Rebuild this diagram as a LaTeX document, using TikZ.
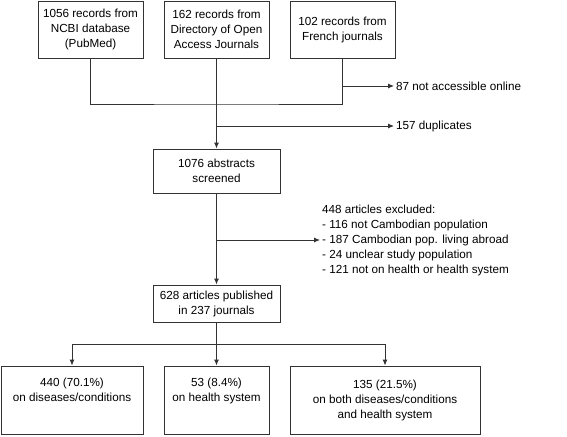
\documentclass[tikz,border=0pt]{standalone}
\usepackage{fontspec}
\setmainfont{Liberation Sans}
\usetikzlibrary{arrows.meta}
\tikzset{
    record-box/.style = {draw=black!80, line width=0.9pt, rectangle, align=center, inner sep=0pt, font=\fontsize{11.7}{15}\selectfont},
    note-text/.style = {anchor=west, align=left, inner sep=2pt, font=\fontsize{11.7}{15}\selectfont},
    flow-line/.style = {draw=black!80, line width=0.9pt},
    flow-arrow/.style = {flow-line, -{Latex[length=6pt,width=5pt]}},
}

\begin{document}
\begin{tikzpicture}[x=1pt,y=-1pt]
\useasboundingbox (0,0) rectangle (567,436);
% sources
\node [record-box, minimum width=105pt, minimum height=57pt] (pubmed) at (90.5,29.5) {1056 records from\\NCBI database\\(PubMed)};
\node [record-box, minimum width=105pt, minimum height=57pt] (doaj) at (216.5,29.5) {162 records from\\Directory of Open\\Access Journals};
\node [record-box, minimum width=105pt, minimum height=57pt] (french) at (342.5,29.5) {102 records from\\French journals};
% screening
\node [record-box, minimum width=127pt, minimum height=44pt] (screened) at (216.5,171) {1076 abstracts\\screened};
\node [record-box, minimum width=127pt, minimum height=37pt] (included) at (216.5,303.5) {628 articles published\\in 237 journals};
% results
\node [record-box, minimum width=142pt, minimum height=68pt] (diseases) at (72,400) {440 (70.1\%)\\on diseases/conditions\\\strut};
\node [record-box, minimum width=105pt, minimum height=68pt] (system) at (216.5,400) {53 (8.4\%)\\on health system\\\strut};
\node [record-box, minimum width=190pt, minimum height=68pt] (both) at (385,400) {135 (21.5\%)\\on both diseases/conditions\\and health system};
% side notes
\node [note-text] (offline) at (394,86) {87 not accessible online};
\node [note-text] (dupes) at (394,126) {157 duplicates};
\node [note-text] (excluded) at (320,240) {448 articles excluded:\\- 116 not Cambodian population\\- 187 Cambodian pop. living abroad\\- 24 unclear study population\\- 121 not on health or health system};

\coordinate (merge) at (216.5,104);
\coordinate (offline-split) at (342.5,86);
\coordinate (dupes-split) at (216.5,126);
\coordinate (excl-split) at (216.5,240);
\coordinate (branch) at (216.5,344);

\draw [flow-line] (pubmed.south) |- (merge) -| (french.south);
\draw [flow-arrow] (doaj.south) -- (screened.north);
\draw [flow-arrow] (offline-split) -- (offline.west);
\draw [flow-arrow] (dupes-split) -- (dupes.west);
\draw [flow-arrow] (screened.south) -- (included.north);
\draw [flow-arrow] (excl-split) -- (excluded.west);
\draw [flow-line] (included.south) -- (branch);
\draw [flow-arrow] (branch) -| (diseases.north);
\draw [flow-arrow] (branch) -- (system.north);
\draw [flow-arrow] (branch) -| (both.north);
\end{tikzpicture}
\end{document}
